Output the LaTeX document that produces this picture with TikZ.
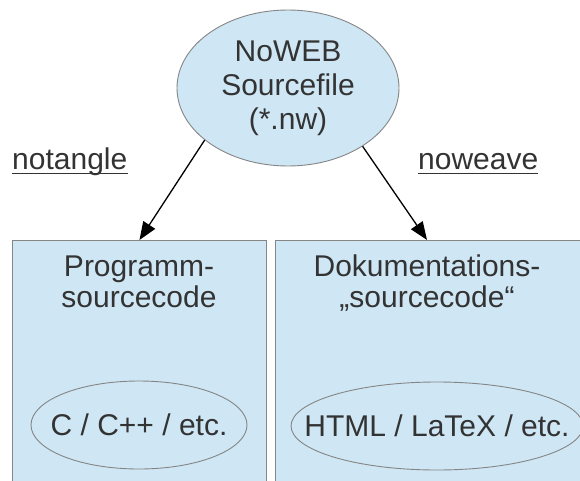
\documentclass[tikz,border=0pt]{standalone}
\usepackage{fontspec}
\setmainfont{Liberation Sans}
\usetikzlibrary{shapes.geometric,arrows.meta}
\definecolor{fillblue}{HTML}{CFE7F5}
\definecolor{edgegrey}{HTML}{858585}
\definecolor{txt}{HTML}{333333}
\tikzset{
  bigfont/.style={font=\fontsize{30}{34}\selectfont},
  titlefont/.style={font=\fontsize{30}{31}\selectfont},
  oval/.style={ellipse, draw=edgegrey, line width=0.9pt, inner sep=0pt, align=center},
  panel/.style={rectangle, draw=edgegrey, line width=0.9pt, fill=fillblue, anchor=north west, inner sep=0pt},
  paneltitle/.style={titlefont, anchor=base, align=center, inner sep=0pt},
  toolname/.style={anchor=base west, inner sep=0pt, text depth=4.5pt},
  flow/.style={-{Triangle[length=18pt,width=14pt]}, line width=1.3pt, black},
  uline/.style={line width=1.3pt, txt}
}
\begin{document}
\begin{tikzpicture}[x=1pt,y=-1pt,bigfont,text=txt]
\useasboundingbox (0,0) rectangle (580,481);
\clip (0,0) rectangle (580,481);
\fill[white] (0,0) rectangle (580,481);

\node[oval, fill=fillblue, minimum width=222pt, minimum height=156pt] (src) at (288,88) {NoWEB\\Sourcefile\\(*.nw)};

\node[panel, minimum width=254pt, minimum height=260pt] (prog) at (12,240) {};
\node[panel, minimum width=320pt, minimum height=260pt] (doc) at (275,240) {};
\coordinate (docin) at (427,240);

\node[paneltitle] (progt) at (139,307) {Programm-\\sourcecode};
\node[paneltitle] (doct) at (427,307) {Dokumentations-\\„sourcecode“};

\node[oval, minimum width=216pt, minimum height=88pt, label={[inner sep=0pt]center:C / C++ / etc.}] (lang) at (139,425) {};
\node[oval, minimum width=292pt, minimum height=88pt, label={[inner sep=0pt]center:HTML / LaTeX / etc.}] (fmt) at (437,426) {};

\node[toolname] (tangle) at (12,169) {notangle};
\node[toolname] (weave) at (418,169) {noweave};
\draw[uline] (tangle.south west) -- (tangle.south east);
\draw[uline] (weave.south west) -- (weave.south east);

\draw[flow] (src.212) -- (prog.north);
\draw[flow] (src.322) -- (docin);
\end{tikzpicture}
\end{document}
